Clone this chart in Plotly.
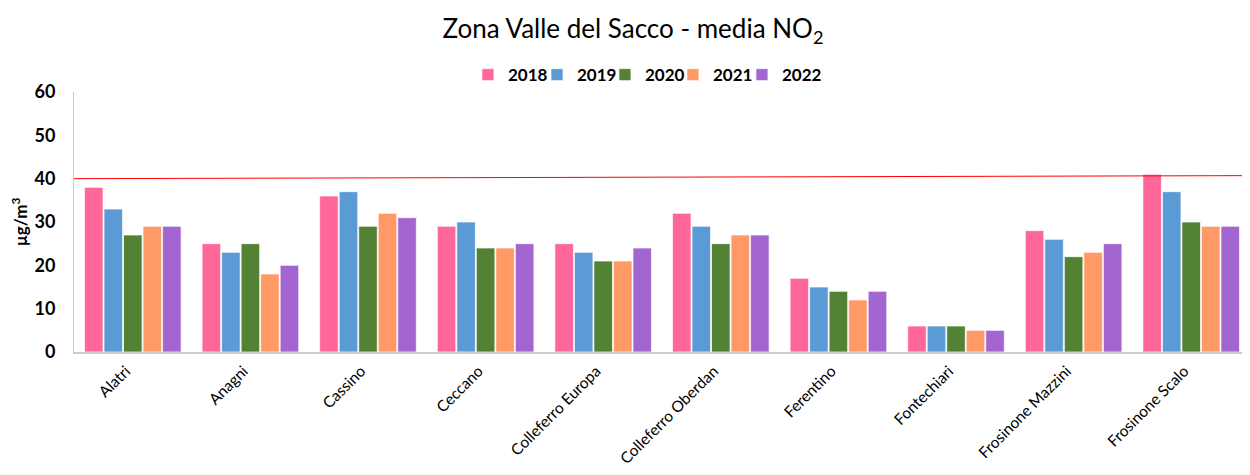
import plotly.graph_objects as go

stations = ["Alatri", "Anagni", "Cassino", "Ceccano", "Colleferro Europa",
            "Colleferro Oberdan", "Ferentino", "Fontechiari", "Frosinone Mazzini", "Frosinone Scalo"]
years = ["2018", "2019", "2020", "2021", "2022"]
v2018 = [38, 25, 36, 29, 25, 32, 17, 6, 28, 41]
v2019 = [33, 23, 37, 30, 23, 29, 15, 6, 26, 37]
v2020 = [27, 25, 29, 24, 21, 25, 14, 6, 22, 30]
v2021 = [29, 18, 32, 24, 21, 27, 12, 5, 23, 29]
v2022 = [29, 20, 31, 25, 24, 27, 14, 5, 25, 29]
series = [v2018, v2019, v2020, v2021, v2022]
colors = ["#FF6699", "#5B9BD5", "#548235", "#FF9966", "#A366D1"]
limit_start, limit_end = 40, 40.7

# horizontal placement of each legend entry (paper fraction)
legend_x = [0.3350, 0.3937, 0.4515, 0.5093, 0.5680]
legend_names = ["legend", "legend2", "legend3", "legend4", "legend5"]

fig = go.Figure()
for y, vals, c, lg in zip(years, series, colors, legend_names):
    fig.add_trace(go.Bar(x=stations, y=vals, name=y, legend=lg,
                         marker=dict(color=c, line=dict(color="rgba(255,255,255,0.7)", width=1))))

fig.add_shape(type="line", xref="paper", yref="y", x0=0, x1=1, y0=limit_start, y1=limit_end,
              line=dict(color="red", width=1))

legend_style = {}
for lg, lx in zip(legend_names, legend_x):
    legend_style[lg] = dict(orientation="h", x=lx, xanchor="left", y=1.065, yanchor="middle",
                            font=dict(size=17, color="black", weight="bold"), itemwidth=30,
                            bgcolor="rgba(0,0,0,0)", borderwidth=0)

fig.update_layout(
    width=1250, height=475,
    margin=dict(l=66, r=8, t=84, b=131, autoexpand=False),
    paper_bgcolor="white", plot_bgcolor="white",
    font=dict(family="Lato, Open Sans, sans-serif", color="black"),
    title=dict(text="Zona Valle del Sacco - media NO<sub>2</sub>", x=0.5, xanchor="center",
               xref="container", yref="container", y=0.955, yanchor="middle",
               font=dict(size=26, color="black")),
    bargap=0.17, bargroupgap=0.05,
    showlegend=True,
    **legend_style,
)
fig.update_yaxes(range=[0, 60], dtick=10, showgrid=False, zeroline=False, automargin=False,
                 showline=True, linecolor="#cccccc", mirror=True, linewidth=1,
                 ticks="", ticklabelstandoff=14,
                 tickfont=dict(size=18, color="black", weight="bold"),
                 title=dict(text="µg/m<sup>3</sup>", font=dict(size=17, color="black", weight="bold"),
                            standoff=12))
fig.update_xaxes(showgrid=False, showline=True, linecolor="#cccccc", linewidth=2, mirror=False,
                 automargin=False, tickangle=-45, tickfont=dict(size=15.5, color="black"), ticks="",
                 ticklabelshift=-7, ticklabelstandoff=2)

fig.write_html("out.html")
